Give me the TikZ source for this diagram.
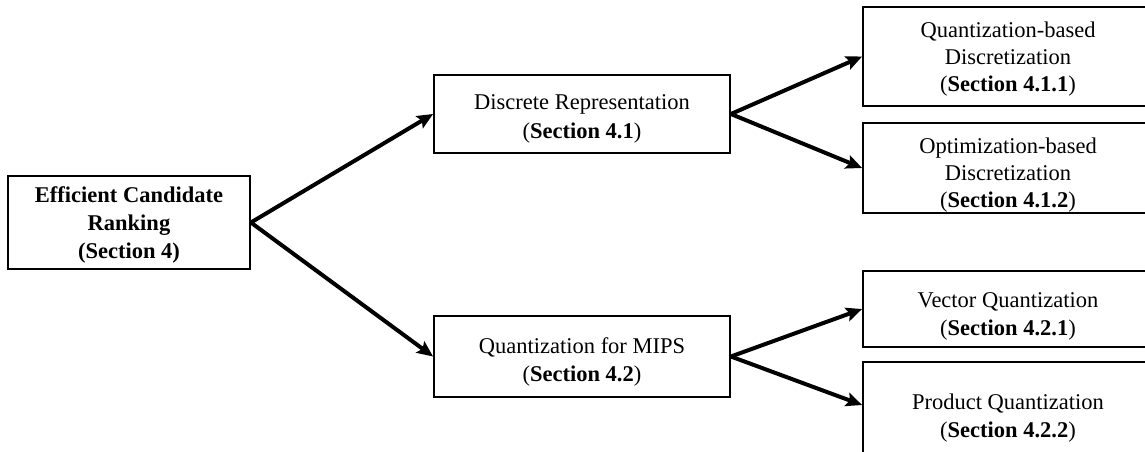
\documentclass[tikz,border=0pt]{standalone}
\usepackage{fontspec}
\setmainfont{Liberation Serif}
\usetikzlibrary{arrows.meta}
\tikzset{
  box/.style={draw=black, line width=1.8pt, fill=white, inner sep=0pt},
  txt/.style={align=center, inner sep=0pt, font=\fontsize{22.5}{28}\selectfont},
  link/.style={line width=4pt, -{Stealth[length=16pt,width=14pt,inset=3pt]}}
}
\begin{document}
\begin{tikzpicture}[x=1pt,y=1pt]
  \useasboundingbox (0,0) rectangle (1145,-451);
  \clip (0,0) rectangle (1145,-451);

  % frames
  \node[box, minimum width=242pt, minimum height=93pt] (root) at (129,-222.5) {};
  \node[box, minimum width=296pt, minimum height=78pt] (disc) at (582,-114) {};
  \node[box, minimum width=296pt, minimum height=81pt] (mips) at (582,-356.5) {};
  \node[box, minimum width=290pt, minimum height=99pt] (qd) at (1008,-56.5) {};
  \node[box, minimum width=290pt, minimum height=90pt] (od) at (1008,-168) {};
  \node[box, minimum width=290pt, minimum height=76pt] (vq) at (1008,-309) {};
  \node[box, minimum width=290pt, minimum height=98pt] (pq) at (1008,-411) {};

  % labels
  \node[txt] (root-t) at ([yshift=-2pt]root.center)
    {\textbf{Efficient Candidate}\\\textbf{Ranking}\\\textbf{(Section 4)}};
  \node[txt, font=\fontsize{22.5}{29.5}\selectfont] (disc-t) at ([yshift=-5pt]disc.center)
    {Discrete Representation\\(\textbf{Section 4.1})};
  \node[txt] (mips-t) at ([yshift=-5pt]mips.center)
    {Quantization for MIPS\\(\textbf{Section 4.2})};
  \node[txt, font=\fontsize{22.5}{27}\selectfont] (qd-t) at ([yshift=-3pt]qd.center)
    {Quantization-based\\Discretization\\(\textbf{Section 4.1.1})};
  \node[txt, font=\fontsize{22.5}{27}\selectfont] (od-t) at ([yshift=-7pt]od.center)
    {Optimization-based\\Discretization\\(\textbf{Section 4.1.2})};
  \node[txt] (vq-t) at ([yshift=-7pt]vq.center)
    {Vector Quantization\\(\textbf{Section 4.2.1})};
  \node[txt] (pq-t) at ([yshift=-7pt]pq.center)
    {Product Quantization\\(\textbf{Section 4.2.2})};

  % connectors
  \draw[link] (root.east) -- (disc.west);
  \draw[link] (root.east) -- (mips.west);
  \draw[link] (disc.east) -- (qd.west);
  \draw[link] (disc.east) -- (od.west);
  \draw[link] (mips.east) -- (vq.west);
  \draw[link] (mips.east) -- ([yshift=6pt]pq.west);
\end{tikzpicture}
\end{document}
